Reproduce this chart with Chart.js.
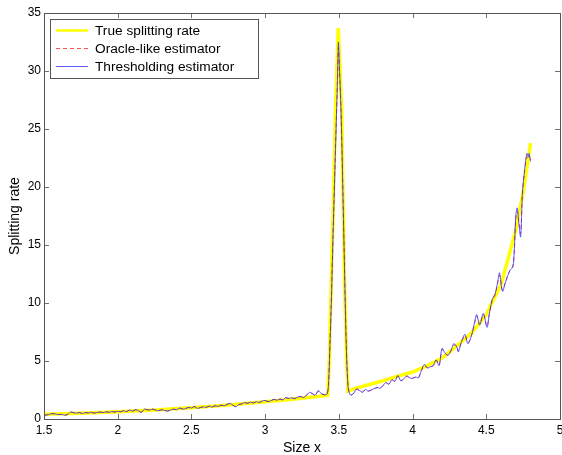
<!DOCTYPE html>
<html>
<head>
<meta charset="utf-8">
<script src="https://cdn.jsdelivr.net/npm/chart.js@4/dist/chart.umd.min.js"></script>
<style>
html,body{margin:0;padding:0;background:#fff;}
canvas{display:block;}
</style>
</head>
<body>
<canvas id="c" width="562" height="455"></canvas>
<script>
// ---- Data ----
const seriesNames = ["True splitting rate", "Oracle-like estimator", "Thresholding estimator"];
const xTicks = [1.5, 2, 2.5, 3, 3.5, 4, 4.5, 5];
const yTicks = [0, 5, 10, 15, 20, 25, 30, 35];

const trueX = [1.5, 1.75, 2.0, 2.25, 2.5, 2.75, 3.0, 3.2, 3.4, 3.425, 3.435, 3.445, 3.462, 3.478, 3.496, 3.508, 3.519, 3.53, 3.542, 3.553, 3.562, 3.6, 3.7, 3.8, 3.9, 4.0, 4.1, 4.2, 4.3, 4.4, 4.5, 4.6, 4.65, 4.7, 4.75, 4.8];
const trueY = [0.4, 0.5, 0.62, 0.78, 0.97, 1.2, 1.48, 1.72, 2.0, 2.05, 5, 10, 18, 27, 33.7, 30, 27, 18, 10, 5, 2.4, 2.6, 2.95, 3.3, 3.7, 4.05, 4.6, 5.25, 6.3, 7.4, 9.0, 11.6, 13.9, 16.3, 19.5, 23.8];

const estX = [1.5, 1.52, 1.54, 1.56, 1.58, 1.6, 1.62, 1.64, 1.66, 1.68, 1.7, 1.72, 1.74, 1.76, 1.78, 1.8, 1.82, 1.84, 1.86, 1.88, 1.9, 1.92, 1.94, 1.96, 1.98, 2.0, 2.02, 2.04, 2.06, 2.08, 2.1, 2.12, 2.14, 2.16, 2.18, 2.2, 2.22, 2.24, 2.26, 2.28, 2.3, 2.32, 2.34, 2.36, 2.38, 2.4, 2.42, 2.44, 2.46, 2.48, 2.5, 2.52, 2.54, 2.56, 2.58, 2.6, 2.62, 2.64, 2.66, 2.68, 2.7, 2.72, 2.74, 2.76, 2.78, 2.8, 2.82, 2.84, 2.86, 2.88, 2.9, 2.92, 2.94, 2.96, 2.98, 3.0, 3.02, 3.04, 3.06, 3.08, 3.1, 3.12, 3.14, 3.16, 3.18, 3.2, 3.22, 3.24, 3.26, 3.28, 3.3, 3.32, 3.34, 3.36, 3.38, 3.4, 3.42, 3.43, 3.44, 3.45, 3.46, 3.47, 3.48, 3.49, 3.497, 3.505, 3.515, 3.525, 3.535, 3.545, 3.555, 3.565, 3.58, 3.6, 3.62, 3.64, 3.66, 3.68, 3.7, 3.72, 3.74, 3.76, 3.78, 3.8, 3.82, 3.84, 3.86, 3.88, 3.9, 3.92, 3.94, 3.96, 3.98, 4.0, 4.02, 4.04, 4.06, 4.08, 4.1, 4.12, 4.14, 4.16, 4.18, 4.2, 4.22, 4.24, 4.26, 4.28, 4.3, 4.31, 4.33, 4.355, 4.375, 4.4, 4.42, 4.435, 4.455, 4.48, 4.505, 4.52, 4.54, 4.56, 4.58, 4.59, 4.61, 4.63, 4.66, 4.68, 4.69, 4.7, 4.71, 4.72, 4.733, 4.745, 4.76, 4.775, 4.785, 4.79, 4.8];

const oracleY = [0.32, 0.36, 0.43, 0.46, 0.42, 0.39, 0.41, 0.34, 0.4, 0.58, 0.55, 0.5, 0.55, 0.5, 0.55, 0.53, 0.57, 0.52, 0.56, 0.6, 0.56, 0.61, 0.59, 0.63, 0.61, 0.66, 0.63, 0.7, 0.65, 0.76, 0.69, 0.79, 0.72, 0.6, 0.83, 0.8, 0.79, 0.84, 0.76, 0.74, 0.8, 0.73, 0.7, 0.78, 0.84, 0.81, 0.93, 0.86, 0.9, 0.99, 0.95, 1.06, 0.94, 0.98, 1.04, 1.0, 1.1, 1.03, 1.14, 1.08, 1.18, 1.15, 1.24, 1.32, 1.2, 1.08, 1.24, 1.3, 1.4, 1.35, 1.44, 1.39, 1.49, 1.43, 1.54, 1.58, 1.51, 1.58, 1.68, 1.62, 1.71, 1.66, 1.82, 1.77, 1.82, 1.76, 1.87, 1.93, 1.86, 2.03, 2.25, 2.18, 2.06, 2.4, 2.2, 2.1, 2.15, 3.1, 6.8, 10.8, 15.7, 20.2, 24.6, 28.8, 32.0, 29.8, 26.3, 21.0, 15.2, 9.2, 4.7, 2.6, 2.1, 2.2, 2.55, 2.45, 2.32, 2.52, 2.42, 2.5, 2.6, 2.7, 2.66, 2.88, 3.1, 3.02, 3.35, 3.26, 3.7, 3.32, 3.45, 3.68, 3.56, 3.52, 3.62, 3.57, 4.15, 4.6, 4.42, 4.5, 4.6, 5.05, 4.65, 6.0, 5.65, 5.5, 5.85, 6.4, 6.2, 5.85, 6.55, 7.2, 6.55, 7.2, 8.2, 8.9, 8.15, 9.0, 8.0, 9.0, 10.2, 10.7, 11.9, 12.4, 11.1, 11.8, 12.8, 13.2, 14.6, 17.2, 17.9, 17.1, 16.0, 19.3, 21.4, 22.6, 22.5, 22.7, 22.3];

const threshY = [0.3, 0.35, 0.42, 0.47, 0.42, 0.38, 0.4, 0.33, 0.38, 0.6, 0.55, 0.5, 0.56, 0.48, 0.55, 0.52, 0.58, 0.5, 0.56, 0.6, 0.55, 0.62, 0.58, 0.64, 0.6, 0.66, 0.62, 0.72, 0.63, 0.78, 0.68, 0.8, 0.72, 0.55, 0.85, 0.8, 0.78, 0.85, 0.75, 0.72, 0.8, 0.72, 0.68, 0.78, 0.85, 0.8, 0.95, 0.85, 0.9, 1.0, 0.95, 1.08, 0.92, 0.98, 1.05, 1.0, 1.12, 1.02, 1.15, 1.08, 1.2, 1.15, 1.25, 1.35, 1.2, 1.05, 1.25, 1.3, 1.42, 1.35, 1.45, 1.38, 1.5, 1.42, 1.55, 1.6, 1.5, 1.58, 1.7, 1.62, 1.72, 1.65, 1.85, 1.78, 1.82, 1.75, 1.88, 1.95, 1.85, 2.05, 2.3, 2.2, 2.05, 2.45, 2.2, 2.1, 2.15, 3.0, 6.5, 10.5, 15.5, 20.0, 24.5, 29.0, 32.5, 30.0, 26.5, 21.0, 15.0, 9.0, 4.5, 2.5, 2.05, 2.2, 2.6, 2.45, 2.3, 2.55, 2.4, 2.5, 2.62, 2.72, 2.65, 2.9, 3.15, 3.0, 3.4, 3.25, 3.75, 3.3, 3.45, 3.72, 3.55, 3.5, 3.62, 3.55, 4.2, 4.7, 4.4, 4.5, 4.6, 5.1, 4.6, 6.1, 5.7, 5.5, 5.9, 6.5, 6.2, 5.8, 6.6, 7.3, 6.5, 7.2, 8.3, 9.0, 8.1, 9.1, 7.9, 9.0, 10.3, 10.8, 12.0, 12.6, 11.0, 11.8, 12.8, 13.1, 14.5, 17.5, 18.2, 17.0, 15.7, 19.5, 21.5, 22.9, 22.6, 22.9, 22.2];

const toPts = (xs, ys) => xs.map((x, i) => ({x: x, y: ys[i]}));

const FONT = "'Liberation Sans', Arial, Helvetica, sans-serif";
Chart.defaults.font.family = FONT;
Chart.defaults.color = '#000';

const legendWidths = [2.5, 1, 1];

// Inward MATLAB-style ticks on all four sides plus a box frame
const framePlugin = {
  id: 'frame',
  afterDatasetsDraw(chart) {
    const {ctx, chartArea: a, scales} = chart;
    ctx.save();
    ctx.strokeStyle = '#707070';
    ctx.lineWidth = 1;
    const L = 5;
    ctx.beginPath();
    scales.x.ticks.forEach(t => {
      const px = Math.round(scales.x.getPixelForValue(t.value)) + 0.5;
      ctx.moveTo(px, a.bottom); ctx.lineTo(px, a.bottom - L);
      ctx.moveTo(px, a.top); ctx.lineTo(px, a.top + L);
    });
    scales.y.ticks.forEach(t => {
      const py = Math.round(scales.y.getPixelForValue(t.value)) + 0.5;
      ctx.moveTo(a.left, py); ctx.lineTo(a.left + L, py);
      ctx.moveTo(a.right, py); ctx.lineTo(a.right - L, py);
    });
    ctx.stroke();
    ctx.strokeStyle = '#555';
    ctx.strokeRect(Math.round(a.left) + 0.5, Math.round(a.top) + 0.5,
                   Math.round(a.right - a.left), Math.round(a.bottom - a.top));
    ctx.restore();
  },
  afterDraw(chart) {
    // legend box inside the plot, upper left
    const {ctx, chartArea: a} = chart;
    const bx = a.left + 6, by = a.top + 6, bw = 208, bh = 59;
    ctx.save();
    ctx.fillStyle = '#fff';
    ctx.fillRect(bx + 0.5, by + 0.5, bw, bh);
    ctx.strokeStyle = '#555';
    ctx.lineWidth = 1;
    ctx.strokeRect(bx + 0.5, by + 0.5, bw, bh);
    const rows = [by + 11.5, by + 29.5, by + 47.5];
    [0, 1, 2].forEach((di, r) => {
      const ds = chart.data.datasets[di];
      ctx.beginPath();
      ctx.strokeStyle = ds.borderColor;
      ctx.lineWidth = legendWidths[r];
      ctx.setLineDash(ds.borderDash || []);
      ctx.moveTo(bx + 6, rows[r]);
      ctx.lineTo(bx + 38, rows[r]);
      ctx.stroke();
      ctx.setLineDash([]);
      ctx.fillStyle = '#000';
      ctx.font = '13.7px ' + FONT;
      ctx.textBaseline = 'middle';
      ctx.textAlign = 'left';
      ctx.fillText(ds.label, bx + 45, rows[r] + 0.5);
    });
    ctx.restore();
  }
};

new Chart(document.getElementById('c'), {
  type: 'line',
  data: {
    datasets: [
      {label: seriesNames[0], data: toPts(trueX, trueY), borderColor: '#ffff00', borderWidth: 3.5, pointRadius: 0, tension: 0, order: 3},
      {label: seriesNames[1], data: toPts(estX, oracleY), borderColor: 'rgba(255,40,40,0.8)', borderWidth: 1, borderDash: [4, 3], pointRadius: 0, tension: 0.3, order: 2},
      {label: seriesNames[2], data: toPts(estX, threshY), borderColor: 'rgba(40,40,255,0.75)', borderWidth: 1, pointRadius: 0, tension: 0.3, order: 1}
    ]
  },
  options: {
    responsive: false,
    animation: false,
    layout: {padding: {top: 13, right: 2, left: 0, bottom: 0}},
    plugins: {legend: {display: false}, tooltip: {enabled: false}},
    scales: {
      x: {
        type: 'linear', min: 1.5, max: 5,
        afterBuildTicks: s => { s.ticks = xTicks.map(v => ({value: v})); },
        ticks: {font: {size: 12}, padding: 4, maxRotation: 0, autoSkip: false, color: '#000', callback: v => String(v)},
        grid: {display: false, drawTicks: false},
        border: {display: false},
        title: {display: true, text: 'Size x', font: {size: 14}, padding: {top: 0, bottom: -2}, color: '#000'},
        afterFit: s => { s.height = 36; s.paddingLeft = 0; s.paddingRight = 0; }
      },
      y: {
        type: 'linear', min: 0, max: 35,
        afterBuildTicks: s => { s.ticks = yTicks.map(v => ({value: v})); },
        ticks: {font: {size: 12}, padding: 3, color: '#000', callback: v => String(v)},
        grid: {display: false, drawTicks: false},
        border: {display: false},
        title: {display: true, text: 'Splitting rate', font: {size: 14}, padding: {top: 7, bottom: 0}, color: '#000'},
        afterFit: s => { s.width = 44; s.paddingTop = 0; s.paddingBottom = 0; }
      }
    }
  },
  plugins: [framePlugin]
});
</script>
</body>
</html>
